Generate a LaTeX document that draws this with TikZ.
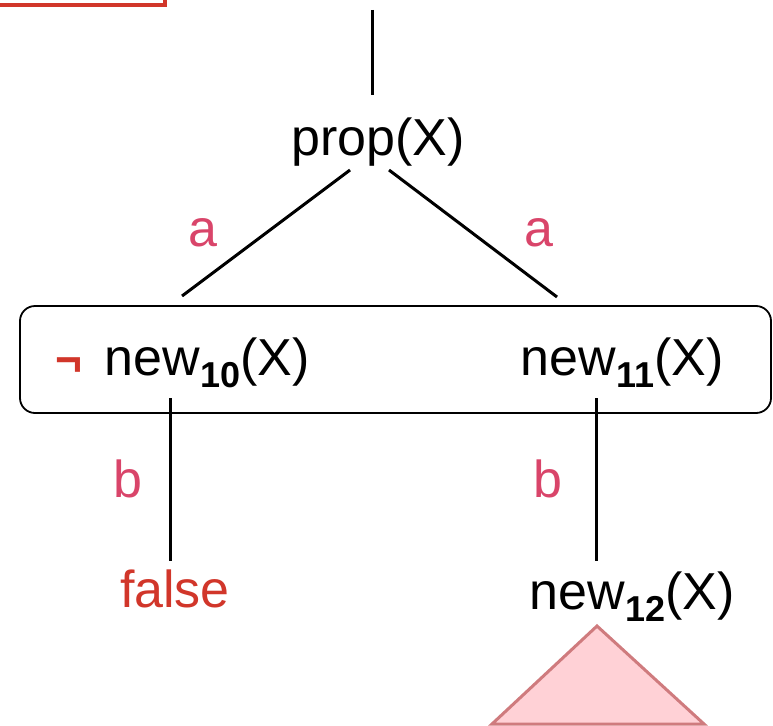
\documentclass[tikz,border=0pt]{standalone}
\usepackage{fontspec}
\setmainfont{Liberation Sans}
\definecolor{redc}{HTML}{D1362A}
\definecolor{pinkc}{HTML}{D9456A}
\definecolor{trifill}{HTML}{FFD1D6}
\definecolor{tristroke}{HTML}{CF7B7E}
\newcommand{\mysub}[1]{\raisebox{-0.24em}{\fontsize{36}{36}\selectfont\bfseries #1}}
\tikzset{
  txt/.style={inner sep=0pt, anchor=base, font=\fontsize{52}{60}\selectfont},
  lbl/.style={txt, text=pinkc},
  edge/.style={line width=3pt, black},
}
\begin{document}
\begin{tikzpicture}[x=1pt,y=-1pt]
\useasboundingbox (0,0) rectangle (773,725);
\begin{scope}
\clip (0,0) rectangle (773,725);
% partial red box top-left
\draw[redc, line width=4pt] (-20,-40) rectangle (165,5);
% triangle
\filldraw[fill=trifill, draw=tristroke, line width=3pt, line join=miter]
  (597,626) -- (704,724) -- (492,724) -- cycle;
\end{scope}
% group box
\draw[line width=1.8pt, rounded corners=15pt] (20,306) rectangle (771,413);
% texts
\node[txt] (prop) at (378,155) {prop(X)};
\node[txt, text=redc, font=\fontsize{46}{50}\selectfont\bfseries] (neg) at (69,375) {¬};
\node[txt] (new10) at (207,375) {new\mysub{10}(X)};
\node[txt] (new11) at (622,375) {new\mysub{11}(X)};
\node[txt, text=redc] (false) at (175,607) {false};
\node[txt] (new12) at (632,609) {new\mysub{12}(X)};
\node[lbl] (la1) at (203,246) {a};
\node[lbl] (la2) at (539,246) {a};
\node[lbl] (lb1) at (128,497) {b};
\node[lbl] (lb2) at (548,497) {b};
% connector end points
\coordinate (top) at (372,10);
\coordinate (propT) at (372,95);
\coordinate (propL) at (350,170);
\coordinate (propR) at (389,170);
\coordinate (boxL) at (182,296);
\coordinate (boxR) at (557,297);
\coordinate (n10b) at (170,398);
\coordinate (falseT) at (170,561);
\coordinate (n11b) at (596,398);
\coordinate (n12T) at (596,561);
\draw[edge] (top) -- (propT);
\draw[edge] (propL) -- (boxL);
\draw[edge] (propR) -- (boxR);
\draw[edge] (n10b) -- (falseT);
\draw[edge] (n11b) -- (n12T);
\end{tikzpicture}
\end{document}
